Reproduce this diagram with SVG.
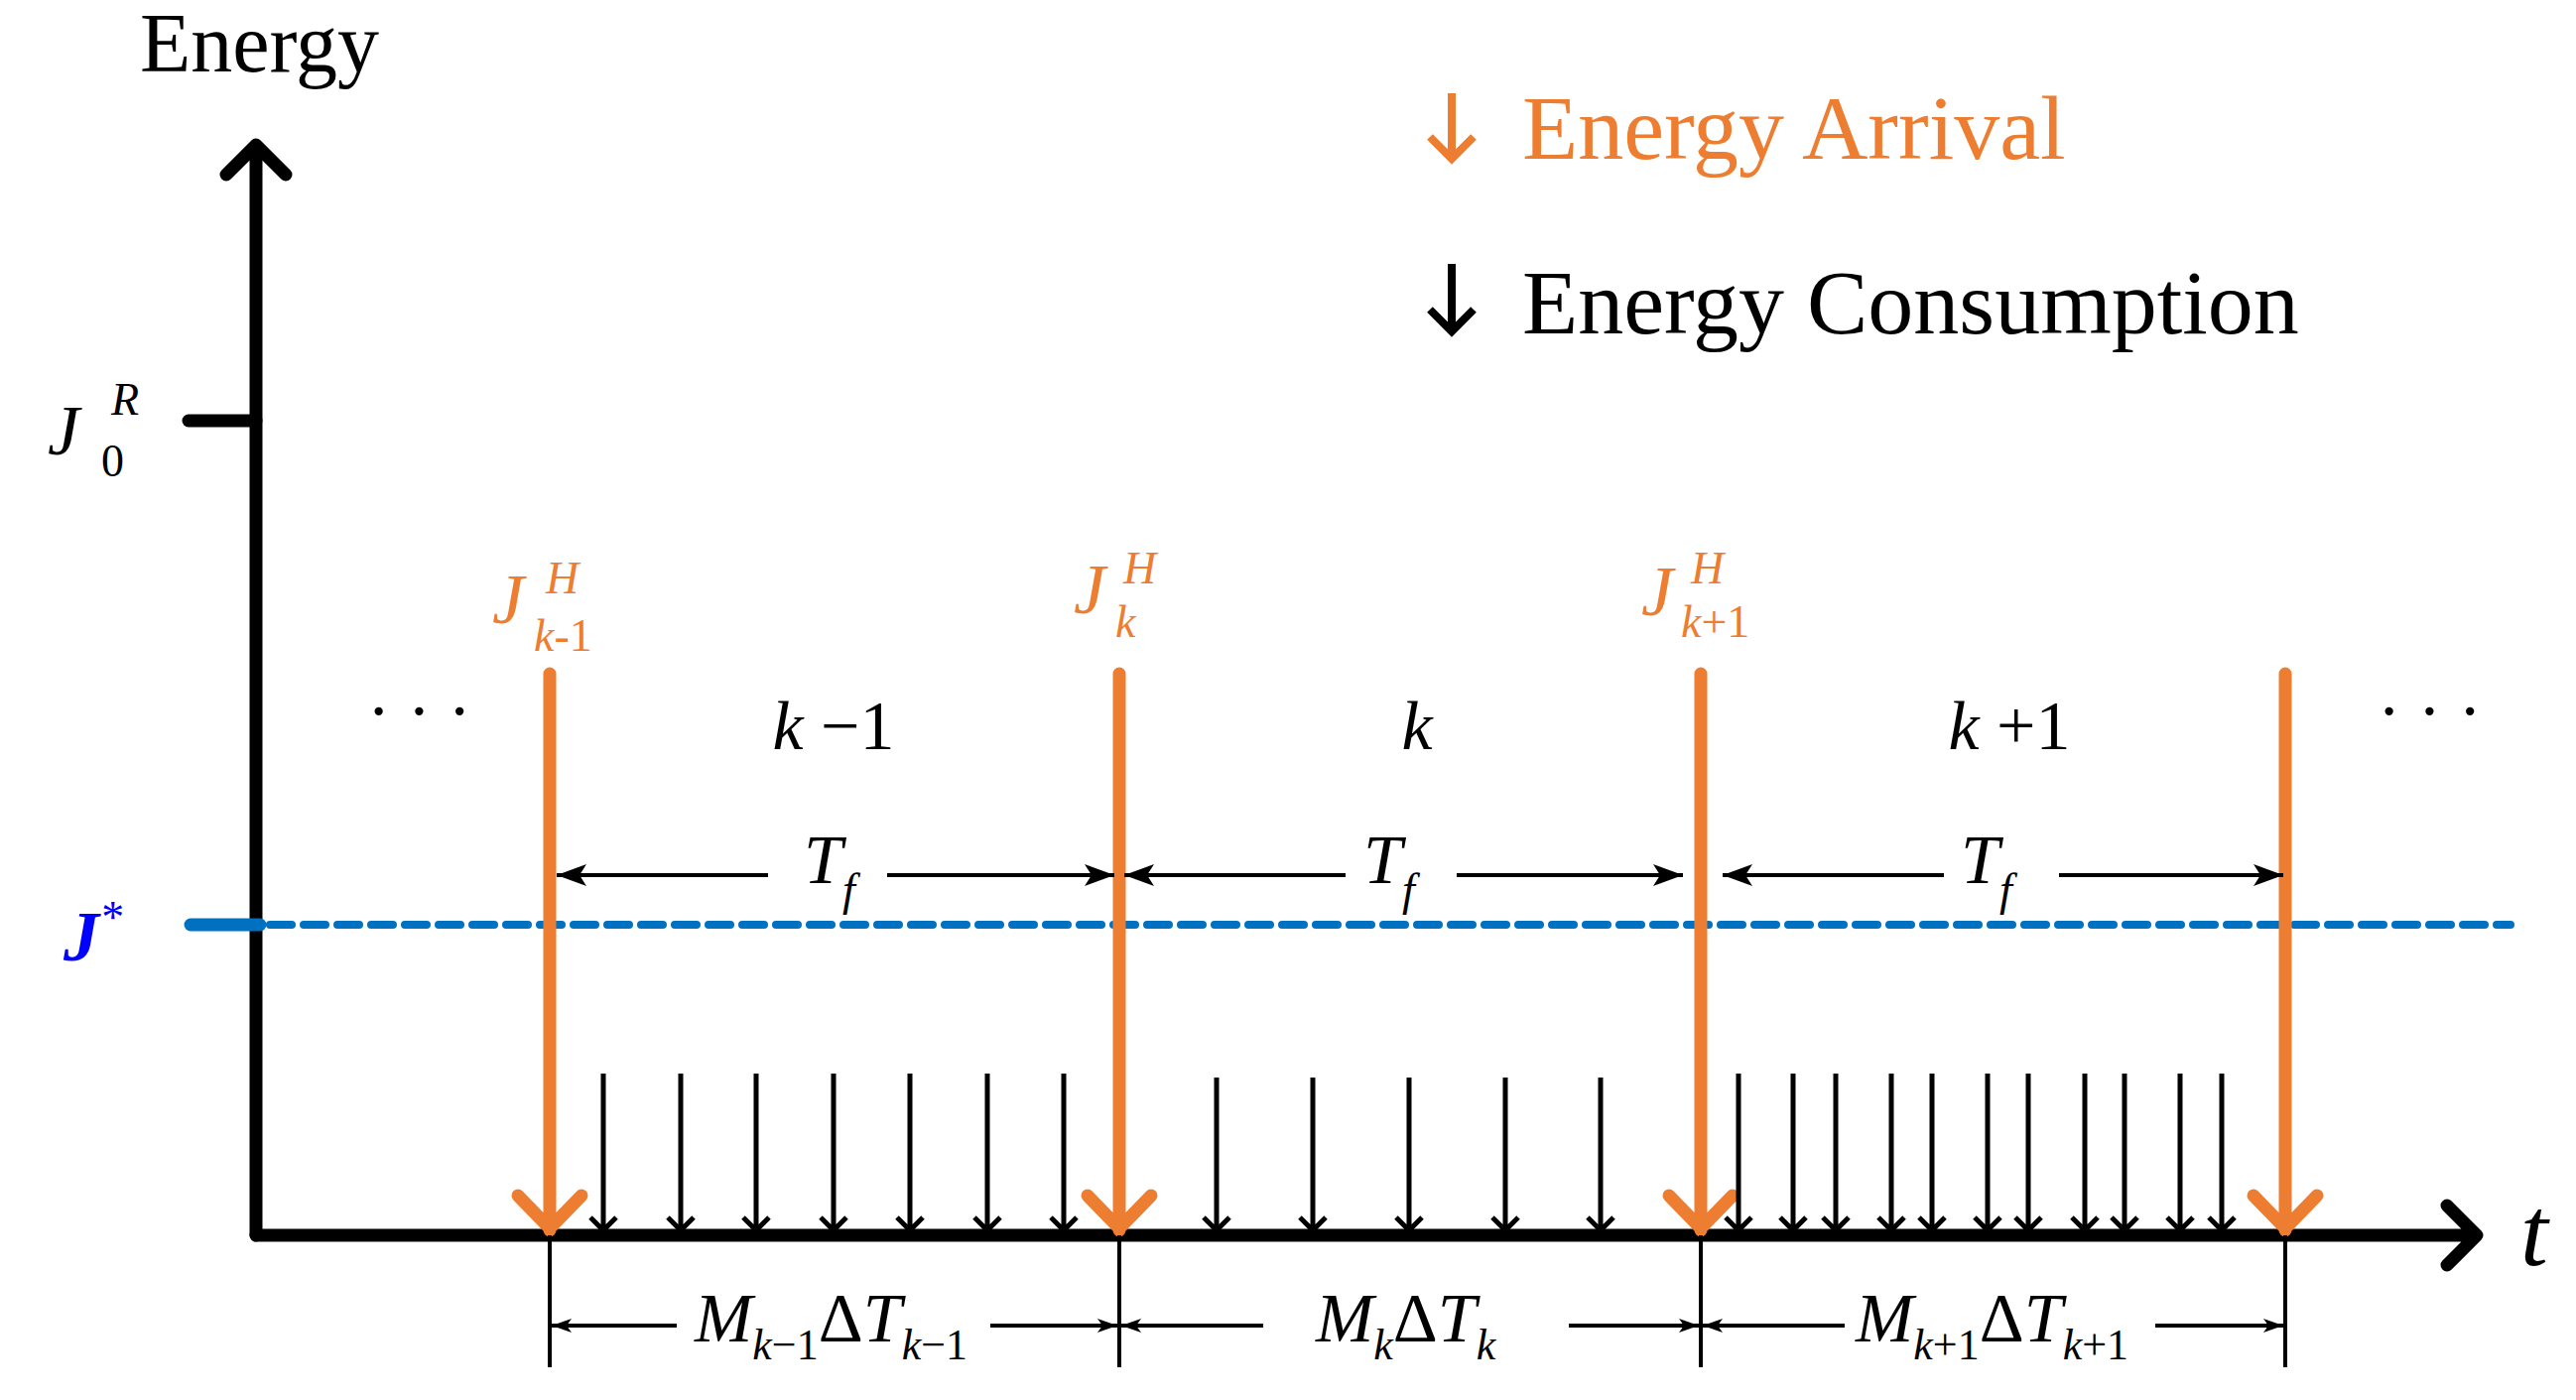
<svg xmlns="http://www.w3.org/2000/svg" width="2596" height="1411" viewBox="0 0 2596 1411">
<style>
text{font-family:"Liberation Serif","Times New Roman",serif;}
.it{font-style:italic}
.ax{stroke:#000;stroke-width:13;fill:none;stroke-linecap:round;stroke-linejoin:round}
.or{stroke:#ED7D31;stroke-width:13;fill:none;stroke-linecap:round;stroke-linejoin:round}
.cs{stroke:#000;stroke-width:5;fill:none;stroke-linejoin:round}
.dm{stroke:#000;stroke-width:4;fill:none}
</style>
<defs>
<marker id="ah" viewBox="0 0 20 14" refX="20" refY="7" markerWidth="20" markerHeight="14" markerUnits="userSpaceOnUse" orient="auto-start-reverse">
<path d="M0,0 L20,7 L0,14 L5,7 Z" fill="#000"/>
</marker>
<marker id="ah2" viewBox="0 0 30 22" refX="30" refY="11" markerWidth="30" markerHeight="22" markerUnits="userSpaceOnUse" orient="auto-start-reverse">
<path d="M0,0 L30,11 L0,22 L7,11 Z" fill="#000"/>
</marker>
</defs>
<g id="axes">
<path class="ax" d="M258,1245 V148 M228,176 L258,146 L288,176"/>
<path class="ax" d="M258,1245 H2496 M2466,1215 L2496,1245 L2466,1275"/>
<path class="ax" d="M190,424 H258"/>
<text x="141" y="72" font-size="84">Energy</text>
<text x="2540" y="1275" font-size="100" class="it">t</text>
</g>
<g id="jstar">
<path d="M192,932 H262" stroke="#0070C0" stroke-width="13" stroke-linecap="round"/>
<path d="M272,932 H2530" stroke="#0070C0" stroke-width="8" stroke-dasharray="22,12" stroke-linecap="round"/>
<text x="64" y="968" font-size="72" fill="#0000FF" class="it" font-weight="bold">J<tspan dy="-28" font-size="46" font-weight="normal">*</tspan></text>
</g>
<g id="j0r">
<text x="48" y="458" font-size="72" class="it">J</text>
<text x="112" y="418" font-size="46" class="it">R</text>
<text x="102" y="480" font-size="46">0</text>
</g>
<g id="legend">
<path d="M1463,94 V158 M1441,138 L1463,160 L1485,138" stroke="#ED7D31" stroke-width="8" fill="none"/>
<text x="1534" y="160" font-size="92" fill="#ED7D31">Energy Arrival</text>
<path d="M1463,266 V332 M1441,312 L1463,334 L1485,312" stroke="#000" stroke-width="8" fill="none"/>
<text x="1534" y="336" font-size="92">Energy Consumption</text>
</g>
<g id="arrivals">
<path class="or" d="M554,679 V1240 M522,1205 L554,1238 L586,1205"/>
<path class="or" d="M1128,679 V1240 M1096,1205 L1128,1238 L1160,1205"/>
<path class="or" d="M1714,679 V1240 M1682,1205 L1714,1238 L1746,1205"/>
<path class="or" d="M2303,679 V1240 M2271,1205 L2303,1238 L2335,1205"/>
<text x="496" y="628" font-size="72" fill="#ED7D31" class="it">J</text>
<text x="550" y="598" font-size="46" fill="#ED7D31" class="it">H</text>
<text x="538" y="656" font-size="46" fill="#ED7D31"><tspan class="it">k</tspan>-1</text>
<text x="1082" y="618" font-size="72" fill="#ED7D31" class="it">J</text>
<text x="1132" y="588" font-size="46" fill="#ED7D31" class="it">H</text>
<text x="1124" y="642" font-size="46" fill="#ED7D31" class="it">k</text>
<text x="1654" y="620" font-size="72" fill="#ED7D31" class="it">J</text>
<text x="1704" y="588" font-size="46" fill="#ED7D31" class="it">H</text>
<text x="1694" y="642" font-size="46" fill="#ED7D31"><tspan class="it">k</tspan>+1</text>
</g>
<g id="consumption" class="cs">
<path d="M608,1082V1240M595,1227L608,1240L621,1227"/>
<path d="M686,1082V1240M673,1227L686,1240L699,1227"/>
<path d="M762,1082V1240M749,1227L762,1240L775,1227"/>
<path d="M840,1082V1240M827,1227L840,1240L853,1227"/>
<path d="M917,1082V1240M904,1227L917,1240L930,1227"/>
<path d="M995,1082V1240M982,1227L995,1240L1008,1227"/>
<path d="M1072,1082V1240M1059,1227L1072,1240L1085,1227"/>
<path d="M1226,1086V1240M1213,1227L1226,1240L1239,1227"/>
<path d="M1323,1086V1240M1310,1227L1323,1240L1336,1227"/>
<path d="M1420,1086V1240M1407,1227L1420,1240L1433,1227"/>
<path d="M1517,1086V1240M1504,1227L1517,1240L1530,1227"/>
<path d="M1613,1086V1240M1600,1227L1613,1240L1626,1227"/>
<path d="M1752,1082V1240M1739,1227L1752,1240L1765,1227"/>
<path d="M1807,1082V1240M1794,1227L1807,1240L1820,1227"/>
<path d="M1850,1082V1240M1837,1227L1850,1240L1863,1227"/>
<path d="M1906,1082V1240M1893,1227L1906,1240L1919,1227"/>
<path d="M1947,1082V1240M1934,1227L1947,1240L1960,1227"/>
<path d="M2003,1082V1240M1990,1227L2003,1240L2016,1227"/>
<path d="M2044,1082V1240M2031,1227L2044,1240L2057,1227"/>
<path d="M2101,1082V1240M2088,1227L2101,1240L2114,1227"/>
<path d="M2141,1082V1240M2128,1227L2141,1240L2154,1227"/>
<path d="M2197,1082V1240M2184,1227L2197,1240L2210,1227"/>
<path d="M2239,1082V1240M2226,1227L2239,1240L2252,1227"/>
</g>
<g id="periods">
<text x="370" y="740" font-size="70">· · ·</text>
<text x="2396" y="740" font-size="70">· · ·</text>
<text x="840" y="755" font-size="70" text-anchor="middle"><tspan class="it">k</tspan> −1</text>
<text x="1428" y="755" font-size="70" text-anchor="middle" class="it">k</text>
<text x="2025" y="755" font-size="70" text-anchor="middle"><tspan class="it">k</tspan> +1</text>
</g>
<g id="connectors">
<path class="dm" stroke-width="5" d="M774,882 H561" marker-end="url(#ah2)"/>
<path class="dm" stroke-width="5" d="M894,882 H1123" marker-end="url(#ah2)"/>
<path class="dm" stroke-width="5" d="M1356,882 H1133" marker-end="url(#ah2)"/>
<path class="dm" stroke-width="5" d="M1468,882 H1696" marker-end="url(#ah2)"/>
<path class="dm" stroke-width="5" d="M1959,882 H1736" marker-end="url(#ah2)"/>
<path class="dm" stroke-width="5" d="M2075,882 H2301" marker-end="url(#ah2)"/>
<path class="dm" d="M554,1245 V1378 M1128,1245 V1378 M1714,1245 V1378 M2303,1245 V1378"/>
<path class="dm" d="M682,1336 H556" marker-end="url(#ah)"/>
<path class="dm" d="M998,1336 H1126" marker-end="url(#ah)"/>
<path class="dm" d="M1273,1336 H1130" marker-end="url(#ah)"/>
<path class="dm" d="M1581,1336 H1712" marker-end="url(#ah)"/>
<path class="dm" d="M1859,1336 H1716" marker-end="url(#ah)"/>
<path class="dm" d="M2172,1336 H2301" marker-end="url(#ah)"/>
</g>
<g id="labels">
<text x="810" y="890" font-size="70" class="it">T<tspan dy="22" font-size="46">f</tspan></text>
<text x="1374" y="890" font-size="70" class="it">T<tspan dy="22" font-size="46">f</tspan></text>
<text x="1976" y="890" font-size="70" class="it">T<tspan dy="22" font-size="46">f</tspan></text>
<text x="700" y="1352" font-size="70"><tspan class="it">M</tspan><tspan dy="18" font-size="44"><tspan class="it">k</tspan>−1</tspan><tspan dy="-18">Δ</tspan><tspan class="it">T</tspan><tspan dy="18" font-size="44"><tspan class="it">k</tspan>−1</tspan></text>
<text x="1326" y="1352" font-size="70"><tspan class="it">M</tspan><tspan dy="18" font-size="44" class="it">k</tspan><tspan dy="-18">Δ</tspan><tspan class="it">T</tspan><tspan dy="18" font-size="44" class="it">k</tspan></text>
<text x="1870" y="1352" font-size="70"><tspan class="it">M</tspan><tspan dy="18" font-size="44"><tspan class="it">k</tspan>+1</tspan><tspan dy="-18">Δ</tspan><tspan class="it">T</tspan><tspan dy="18" font-size="44"><tspan class="it">k</tspan>+1</tspan></text>
</g>
</svg>
